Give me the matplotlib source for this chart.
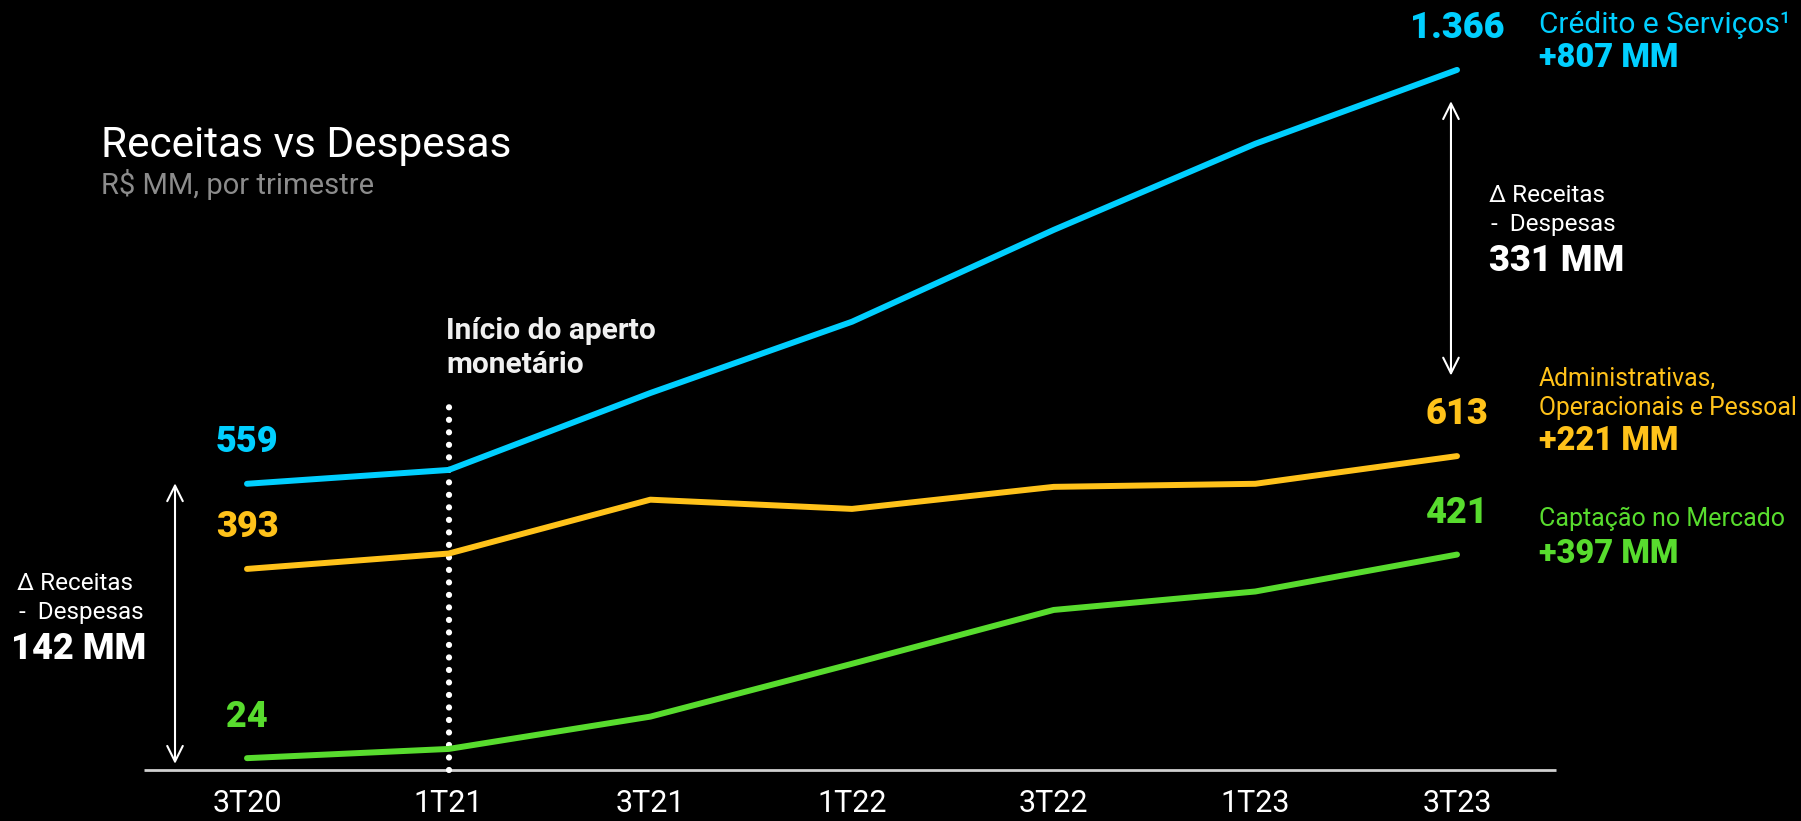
import matplotlib.pyplot as plt

# quarters and series (R$ MM)
quarters = ['3T20', '1T21', '3T21', '1T22', '3T22', '1T23', '3T23']
credito = [559, 586, 736, 875, 1054, 1222, 1366]
admin = [393, 423, 528, 510, 553, 559, 613]
captacao = [24, 42, 105, 208, 313, 349, 421]

BLUE = '#00CFFF'
YELLOW = '#FFC21A'
GREEN = '#58DC2E'
FONT = ['Roboto', 'DejaVu Sans']

plt.rcParams['font.family'] = FONT

W, H = 1801, 821
fig = plt.figure(figsize=(W / 100, H / 100), dpi=100, facecolor='black')
ax = fig.add_axes([0, 0, 1, 1], facecolor='black')
ax.set_xlim(-1.2248, 7.7057)
ax.set_ylim(-98.5, 1502.3)
ax.axis('off')


def ftext(px, py, s, **kw):
    # place text by pixel position measured from the top-left corner
    fig.text(px / W, 1 - py / H, s, **kw)


x = list(range(len(quarters)))

# baseline
ax.plot([-0.51, 6.49], [0, 0], color='#d0d0d0', lw=2, solid_capstyle='butt')

# dotted marker at 1T21
ax.plot([1, 1], [0, 714], color='white', lw=4.5, linestyle=(0, (0.001, 2.0)),
        dash_capstyle='round', zorder=3)

for vals, col in [(credito, BLUE), (admin, YELLOW), (captacao, GREEN)]:
    ax.plot(x, vals, color=col, lw=4.3, solid_capstyle='round', zorder=4)
    for i in (0, len(vals) - 1):
        lab = f'{vals[i]:,}'.replace(',', '.')
        ax.annotate(lab, xy=(i, vals[i]), xytext=(0, 30), textcoords='offset points',
                    ha='center', va='center', color=col, fontsize=26,
                    fontweight='heavy')

# quarter labels
for i, q in enumerate(quarters):
    ax.text(i, -65, q, ha='center', va='center', color='white', fontsize=22)

# difference arrows
arrow = dict(arrowstyle='<->', color='white', lw=1.5, mutation_scale=28,
             shrinkA=0, shrinkB=0)
ax.annotate('', xy=(-0.357, 560), xytext=(-0.357, 13), arrowprops=arrow)
ax.annotate('', xy=(5.97, 1305), xytext=(5.97, 770), arrowprops=arrow)

# titles
ftext(101, 145, 'Receitas vs Despesas', color='white', fontsize=30.5, va='center')
ftext(101, 184, 'R$ MM, por trimestre', color='#8c8c8c', fontsize=21, va='center')

ftext(446, 331, 'Início do aperto', color='#f0f0f0', fontsize=21.5, fontweight='bold',
      va='center')
ftext(446, 365, 'monetário', color='#f0f0f0', fontsize=21.5, fontweight='bold',
      va='center')

# left delta box
ftext(17, 583, 'Δ Receitas', color='white', fontsize=17.5, va='center')
ftext(13, 612, ' -  Despesas', color='white', fontsize=17.5, va='center')
ftext(11, 649, '142 MM', color='white', fontsize=26, fontweight='heavy', va='center')

# right delta box
ftext(1489, 196, 'Δ Receitas', color='white', fontsize=17.5, va='center')
ftext(1485, 225, ' -  Despesas', color='white', fontsize=17.5, va='center')
ftext(1489, 261, '331 MM', color='white', fontsize=26, fontweight='heavy', va='center')

# series legends
ftext(1539, 25, 'Crédito e Serviços¹', color=BLUE, fontsize=21.5, va='center')
ftext(1539, 58, '+807 MM', color=BLUE, fontsize=23.5, fontweight='heavy', va='center')
ftext(1539, 378, 'Administrativas,', color=YELLOW, fontsize=17.8, va='center')
ftext(1539, 408, 'Operacionais e Pessoal', color=YELLOW, fontsize=17.8, va='center')
ftext(1539, 441, '+221 MM', color=YELLOW, fontsize=23.5, fontweight='heavy', va='center')
ftext(1539, 519, 'Captação no Mercado', color=GREEN, fontsize=18, va='center')
ftext(1539, 554, '+397 MM', color=GREEN, fontsize=23.5, fontweight='heavy', va='center')

fig.savefig('out.png', dpi=100, facecolor='black')
